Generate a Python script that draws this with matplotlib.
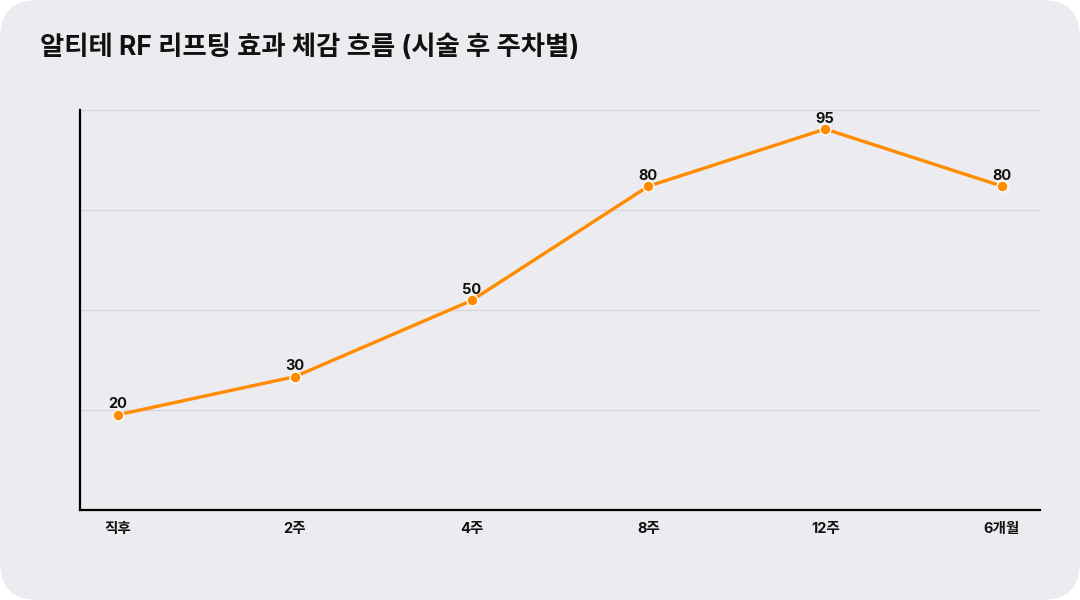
import numpy as np
import matplotlib
matplotlib.use("Agg")
import matplotlib.pyplot as plt
from matplotlib.patches import FancyBboxPatch

plt.rcParams["font.family"] = ["Inter", "Noto Sans CJK KR", "DejaVu Sans"]

title = "알티테 RF 리프팅 효과 체감 흐름 (시술 후 주차별)"
periods = ["직후", "2주", "4주", "8주", "12주", "6개월"]
scores = [20, 30, 50, 80, 95, 80]

bg = "#ececf0"
orange = "#ff8c00"

fig = plt.figure(figsize=(10.8, 6), dpi=100)
fig.patch.set_facecolor("white")
card = FancyBboxPatch((0.0, 0.0), 1.0, 1.0, boxstyle="round,pad=0,rounding_size=0.035",
                      transform=fig.transFigure, facecolor=bg, edgecolor="none",
                      mutation_aspect=1.8, zorder=-10)
fig.patches.append(card)

fig.text(40 / 1080, 1 - 48 / 600, title, fontsize=19, fontweight="bold",
         color="#111111", va="center", ha="left")

ax = fig.add_axes([80 / 1080, 90 / 600, 960 / 1080, 400 / 600])
ax.set_facecolor(bg)

x = np.arange(len(periods))
ymin, ymax = -5, 100
ax.set_xlim(-0.215, len(periods) - 1 + 0.215)
ax.set_ylim(ymin, ymax)

for gy in np.linspace(ymin, ymax, 5)[1:]:
    ax.axhline(gy, color="#d6d6da", lw=0.9, zorder=0)

ax.plot(x, scores, color=orange, lw=2.4, zorder=3, solid_capstyle="round")
ax.scatter(x, scores, s=62, color=orange, edgecolor="white", linewidth=1.0, zorder=4)

for xi, v in zip(x, scores):
    ax.annotate(str(v), (xi, v), xytext=(0, 2.5), textcoords="offset points",
                ha="center", va="bottom", fontsize=10.5, fontweight="bold", color="#111111")

ax.set_xticks(x)
ax.set_xticklabels(periods, fontsize=10.5, fontweight="bold", color="#111111")
ax.tick_params(axis="x", length=0, pad=9)
ax.set_yticks([])

for side in ["top", "right"]:
    ax.spines[side].set_visible(False)
for side in ["left", "bottom"]:
    ax.spines[side].set_color("#000000")
    ax.spines[side].set_linewidth(1.6)

fig.savefig("out.png", dpi=100, facecolor=fig.get_facecolor())
